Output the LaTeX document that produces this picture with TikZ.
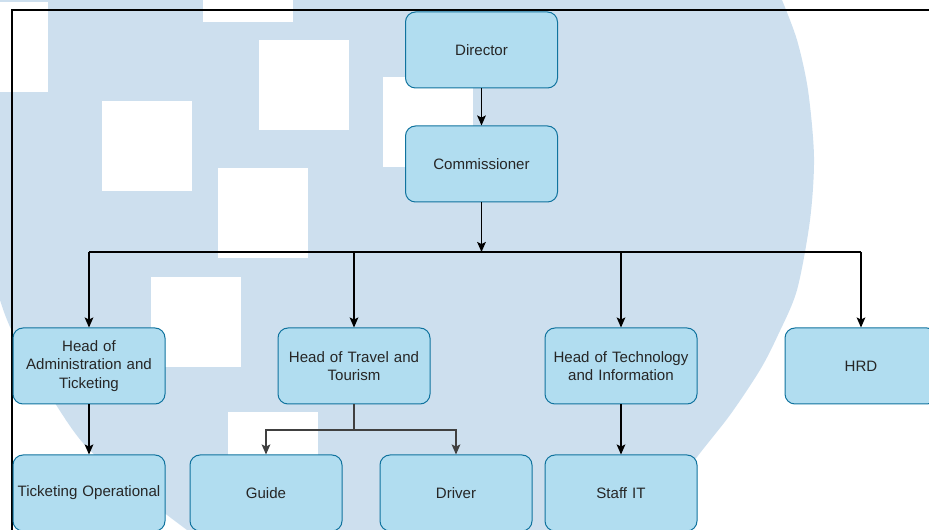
\documentclass[tikz,border=0pt]{standalone}
\usepackage{fontspec}
\setmainfont{Liberation Sans}
\usetikzlibrary{arrows.meta}
\definecolor{bgblue}{RGB}{205,223,238}
\definecolor{boxfill}{RGB}{177,221,240}
\definecolor{boxline}{RGB}{16,115,158}

\begin{document}
\begin{tikzpicture}[x=0.75pt,y=-0.75pt,
    unit/.style={draw=boxline,fill=boxfill,rounded corners=7.5pt,line width=0.75pt,
      minimum width=114pt,minimum height=57pt,inner xsep=1.5pt,text width=111pt,
      align=center,font=\fontsize{11.3}{13.9}\selectfont,text=black!85},
    link/.style={-{Stealth[length=7.5pt,width=6.5pt,inset=1.5pt]},line width=1pt}]
  \useasboundingbox (0,0) rectangle (929,530);
  \clip (0,0) rectangle (929,530);
  % background shape and squares
  \fill[bgblue] (0,0) -- (782,0) -- plot[smooth] coordinates {(782,0) (797,40) (808,90)
      (814,157) (810,220) (797,290) (778,335) (760,370) (730,415) (697,457) (650,520)
      (625,560)}
    -- (215,548) -- plot[smooth] coordinates {(215,548) (187,530) (125,482) (83,443)
      (53,400) (13,333) (0,300)} -- cycle;
  \foreach \x/\y in {-42/2,203/-68,259/40,102/101,218/168,383/77,151/277,228/412}
    \fill[white] (\x,\y) rectangle ++(90,90);
  \draw[line width=1.2pt] (12,560) -- (12,10) -- (960,10);

  \node[unit] (dir) at (481.5,50) {Director};
  \node[unit] (com) at (481.5,164) {Commissioner};
  \node[unit] (adm) at (89,366) {Head of\\Administration and\\Ticketing};
  \node[unit] (trav) at (354,366) {Head of Travel and\\Tourism};
  \node[unit] (tech) at (621,366) {Head of Technology\\and Information};
  \node[unit] (hrd) at (861,366) {HRD};
  \node[unit] (tick) at (89,493) {Ticketing Operational};
  \node[unit] (guide) at (266,493) {Guide};
  \node[unit] (drv) at (456,493) {Driver};
  \node[unit] (staff) at (621,493) {Staff IT};

  \coordinate (bus) at (481.5,252);
  \coordinate (fork) at (354,430);
  \draw[link] (dir) -- (com);
  \draw[link] (com) -- (bus);
  \draw[line width=1pt] (adm |- bus) -- (hrd |- bus);
  \foreach \n in {adm,trav,tech,hrd}
    \draw[link] (\n |- bus) -- (\n);
  \draw[link] (adm) -- (tick);
  \draw[link] (tech) -- (staff);
  \draw[link,black!75] (trav) -- (fork) -| (guide);
  \draw[link,black!75] (fork) -| (drv);
\end{tikzpicture}
\end{document}
